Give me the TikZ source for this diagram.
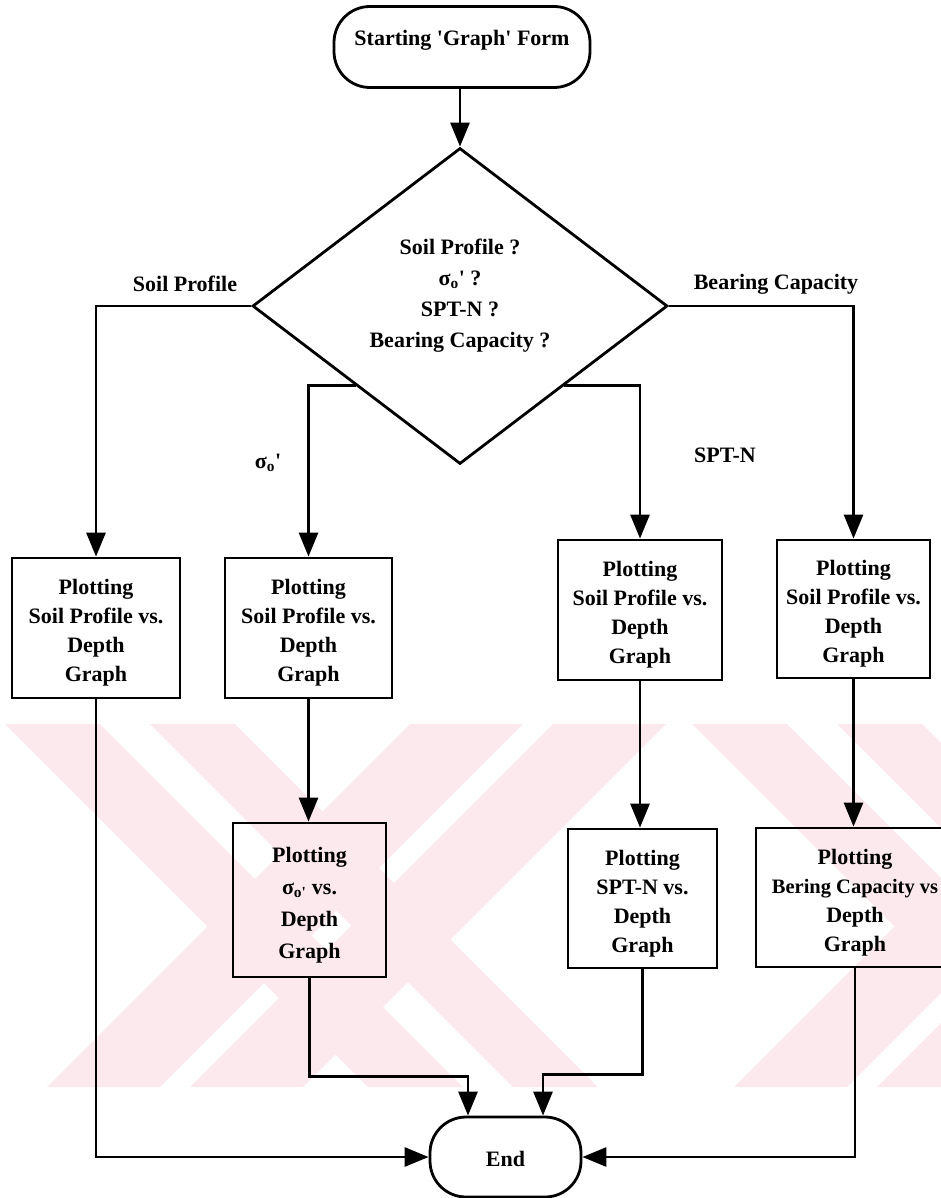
\documentclass[tikz,border=0pt]{standalone}
\usepackage{fontspec}
\setmainfont{Liberation Serif}
\usetikzlibrary{shapes.geometric,arrows.meta}
\definecolor{wm}{RGB}{252,233,237}
\newcommand{\sq}{\textquotesingle}
% taller first line pushes the text block a little lower in its box
\newcommand{\tp}{\rule{0pt}{25pt}}
\begin{document}
\begin{tikzpicture}[x=1pt,y=-1pt,
  line width=2.8pt,
  font=\bfseries\fontsize{22}{29}\selectfont,
  arr/.style={-{Triangle[length=24pt,width=19pt]}},
  proc/.style={draw, rectangle, align=center, inner sep=0pt},
  term/.style={draw, rectangle, rounded corners=36pt, inner sep=0pt},
  lbl/.style={inner sep=0pt, align=center}]
\useasboundingbox (0,0) rectangle (941,1198);

% faint striped background band
\begin{scope}
  \clip (0,724) rectangle (941,1087);
  \foreach \a/\b in {5/100,150/235,692/787,837/922}
    \fill[wm] (\a,724) -- (\b,724) -- (\b+363,1087) -- (\a+363,1087) -- cycle;
  \foreach \c/\d in {47/160,190/303,734/847,877/990}
    \fill[wm] (\c,1087) -- (\d,1087) -- (\d+363,724) -- (\c+363,724) -- cycle;
\end{scope}

% terminals and decision
\node[term, minimum width=256pt, minimum height=81pt] (start) at (462,47) {};
\node[lbl] (starttxt) at (462,40) {Starting \sq Graph\sq{} Form};
\node[draw, diamond, minimum width=415pt, minimum height=316pt, inner sep=0pt] (q) at (460,306) {};
\node[lbl, font=\bfseries\fontsize{22}{31}\selectfont] (qtxt) at (460,296) {Soil Profile ?\\σ\textsubscript{o}\sq{} ?\\SPT-N ?\\Bearing Capacity ?};
\node[term, minimum width=151pt, minimum height=80pt] (end) at (505.5,1157) {\rule{0pt}{20pt}End};

% first row of plotting steps
\node[proc, minimum width=168pt, minimum height=140pt] (b1) at (96,628) {\tp Plotting\\Soil Profile vs.\\Depth\\Graph};
\node[proc, minimum width=167pt, minimum height=140pt] (b2) at (308.5,628) {\tp Plotting\\Soil Profile vs.\\Depth\\Graph};
\node[proc, minimum width=164pt, minimum height=140pt] (b3) at (640,610) {\tp Plotting\\Soil Profile vs.\\Depth\\Graph};
\node[proc, minimum width=153pt, minimum height=138pt] (b4) at (853.5,609) {\tp Plotting\\Soil Profile vs.\\Depth\\Graph};

% second row of plotting steps
\node[proc, minimum width=153pt, minimum height=154pt, font=\bfseries\fontsize{22}{32}\selectfont] (b5) at (309.5,900) {\tp Plotting\\σ\textsubscript{o\sq} vs.\\Depth\\Graph};
\node[proc, minimum width=149pt, minimum height=139pt] (b6) at (642.5,898.5) {\tp Plotting\\SPT-N vs.\\Depth\\Graph};
\node[proc, minimum width=198pt, minimum height=139pt] (b7) at (855,897.5) {\tp Plotting\\{\fontsize{20.5}{29}\selectfont Bering Capacity vs}\\Depth\\Graph};

% branch labels
\node[lbl] (lsoil) at (185,284) {Soil Profile};
\node[lbl] (lbear) at (776,284) {Bearing Capacity};
\node[lbl] (lsig) at (268,463) {σ\textsubscript{o}\sq};
\node[lbl] (lspt) at (725,455) {SPT-N};

% connectors
\draw[arr] (start.south -| q.north) -- (q.north);
\draw[arr] (q.west) -| (b1.north);
\draw[arr] (q.east) -| (b4.north);
\draw[arr] (q.south west) -| (b2.north);
\draw[arr] (q.south east) -| (b3.north);
\draw[arr] (b2.south) -- (b2.south |- b5.north);
\draw[arr] (b3.south) -- (b3.south |- b6.north);
\draw[arr] (b4.south) -- (b4.south |- b7.north);
\draw[arr] (b1.south) |- (end.west);
\draw[arr] (b7.south) |- (end.east);
\draw[arr] (b5.south) -- ++(0,98) -| ([xshift=-37.5pt]end.north);
\draw[arr] (b6.south) -- ++(0,105) -| ([xshift=37.5pt]end.north);
\end{tikzpicture}
\end{document}
